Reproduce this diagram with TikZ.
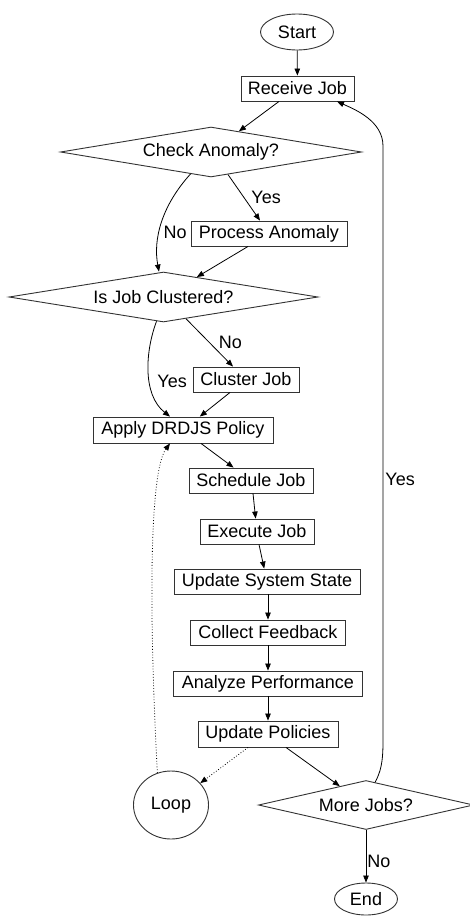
\documentclass[tikz,border=0pt]{standalone}
\usepackage{fontspec}
\setmainfont{Liberation Sans}
\usetikzlibrary{shapes.geometric,arrows.meta}
\begin{document}
\begin{tikzpicture}[x=1pt,y=-1pt,
  every node/.style={font=\fontsize{18}{21}\selectfont, inner sep=0pt},
  box/.style={draw=black!80, rectangle, line width=0.9pt, minimum height=25pt},
  decision/.style={draw=black!80, diamond, line width=0.9pt},
  term/.style={draw=black!80, ellipse, line width=0.9pt},
  conn/.style={line width=0.8pt, -{Triangle[length=7pt,width=5.5pt]}},
  dotconn/.style={conn, dotted},
  lbl/.style={anchor=west, inner sep=0pt}
]
\useasboundingbox (0,0) rectangle (469,916);
\fill[white] (0,0) rectangle (469,916);

\node[term, minimum width=73pt, minimum height=36pt] (start) at (297,32) {Start};
\node[box, minimum width=113pt] (recv) at (297.5,88.5) {Receive Job};
\node[decision, minimum width=301pt, minimum height=50pt, shape aspect=8] (check) at (211,152) {Check Anomaly?};
\node[box, minimum width=156pt] (proc) at (269,233.5) {Process Anomaly};
\node[decision, minimum width=309pt, minimum height=50pt, shape aspect=8] (clus) at (163.5,297) {Is Job Clustered?};
\node[box, minimum width=106pt] (cjob) at (246,379.5) {Cluster Job};
\node[box, minimum width=180pt, minimum height=26pt] (apply) at (183,430) {Apply DRDJS Policy};
\node[box, minimum width=124pt] (sched) at (251,480.5) {Schedule Job};
\node[box, minimum width=114pt] (exec) at (257,531.5) {Execute Job};
\node[box, minimum width=186pt] (upd) at (267,581.5) {Update System State};
\node[box, minimum width=155pt] (coll) at (268,632.5) {Collect Feedback};
\node[box, minimum width=189pt] (anal) at (268,683.5) {Analyze Performance};
\node[box, minimum width=140pt, minimum height=26pt] (pol) at (268,734) {Update Policies};
\node[term, minimum width=75pt, minimum height=68pt] (loop) at (171,805) {Loop};
\node[decision, minimum width=215pt, minimum height=49pt, shape aspect=4] (more) at (366,805) {More Jobs?};
\node[term, minimum width=63pt, minimum height=32pt] (end) at (366,899) {End};

\coordinate (ya) at (383,742);
\coordinate (yb) at (383,146);

\draw[conn] (start) -- (recv);
\draw[conn] ([xshift=-18.5pt]recv.south) -- (check);
\draw[conn] (check.-53.5) -- node[lbl, pos=0.5, xshift=7pt] {Yes} ([xshift=-9pt]proc.north);
\draw[conn] (check.-133.6) .. controls +(-29,32) and +(-6,-32) .. node[lbl, pos=0.6, xshift=4pt] {No} ([xshift=-4.5pt]clus.north);
\draw[conn] ([xshift=-21pt]proc.south) -- (clus);
\draw[conn] (clus.-44.4) -- node[lbl, pos=0.5, xshift=9pt] {No} ([xshift=-13pt]cjob.north);
\draw[conn] (clus.-106.7) .. controls +(-11,29) and +(-28,-22) .. node[lbl, pos=0.6, xshift=7pt] {Yes} ([xshift=-13pt]apply.north);
\draw[conn] ([xshift=-16pt]cjob.south) -- (apply);
\draw[conn] ([xshift=18pt]apply.south) -- (sched);
\draw[conn] ([xshift=2pt]sched.south) -- (exec);
\draw[conn] ([xshift=2pt]exec.south) -- (upd);
\draw[conn] (upd.south -| coll.north) -- (coll.north);
\draw[conn] (coll) -- (anal);
\draw[conn] (anal) -- (pol);
\draw[conn] ([xshift=18pt]pol.south) -- (more);
\draw[dotconn] ([xshift=-20pt]pol.south) -- (loop);
\draw[dotconn] (loop.113) .. controls +(-9,-172) and +(-20,27) .. ([xshift=-13pt]apply.south);
\draw[conn] (more.68.6) .. controls +(5,-10) and +(0,22) .. (ya) -- node[lbl, pos=0.44, xshift=2pt] {Yes} (yb) .. controls +(0,-25) and +(18,8) .. ([xshift=39.5pt]recv.south);
\draw[conn] (more.south) -- node[lbl, pos=0.59, xshift=1pt] {No} (end.north);
\end{tikzpicture}
\end{document}
